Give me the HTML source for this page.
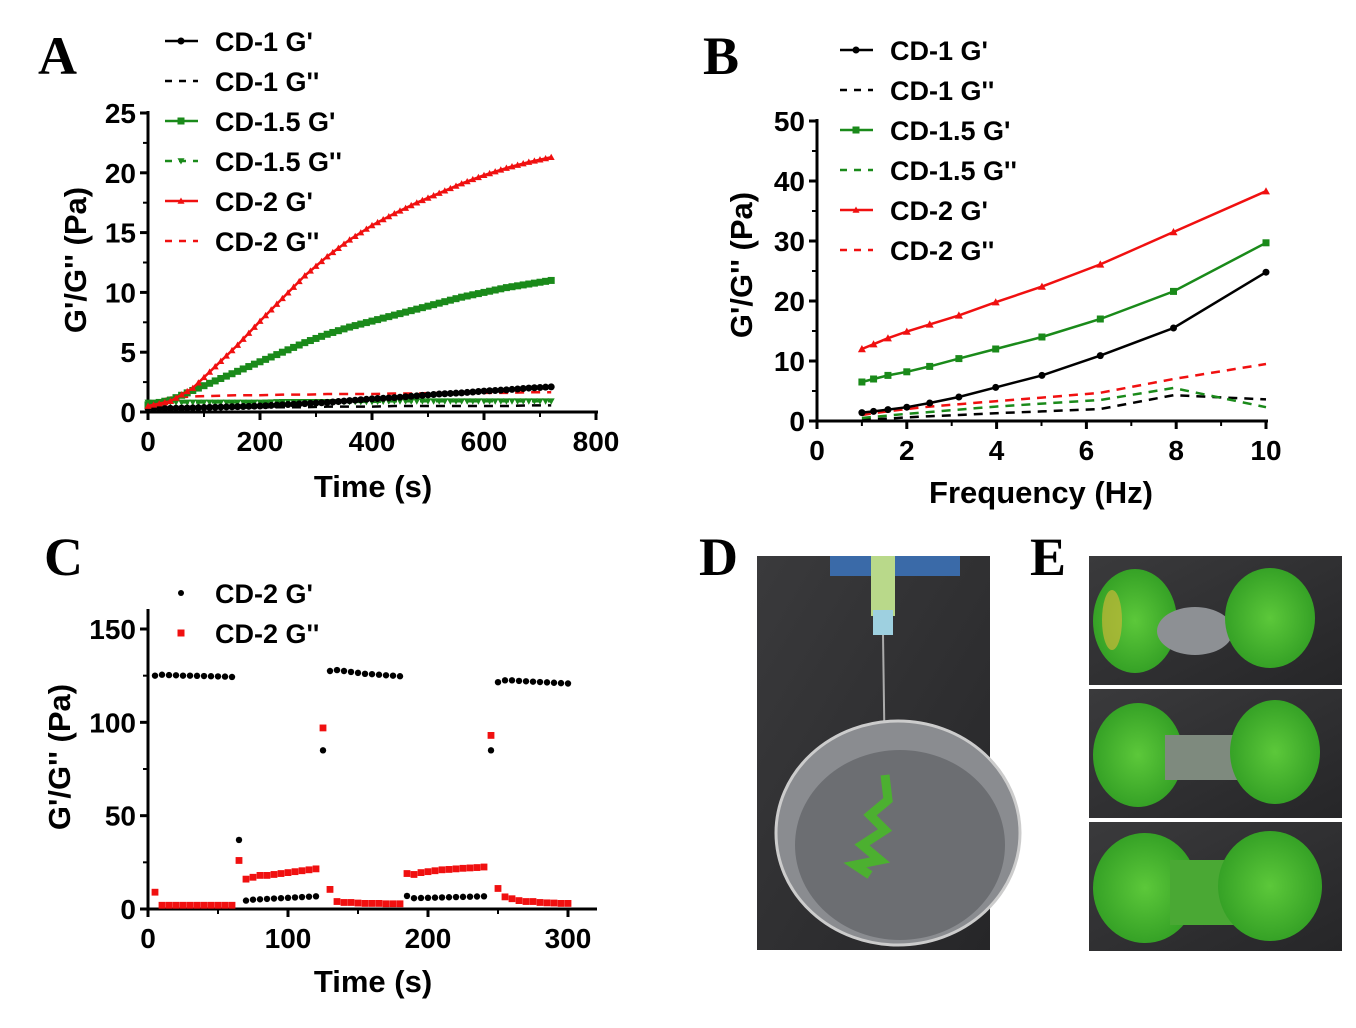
<!DOCTYPE html>
<html><head><meta charset="utf-8"><style>
html,body{margin:0;padding:0;background:#fff;}
svg text{font-family:"Liberation Sans",Arial,sans-serif;font-weight:bold;}
</style></head><body>
<svg id="fig" width="1356" height="1023" viewBox="0 0 1356 1023" xmlns="http://www.w3.org/2000/svg">
<defs>
<radialGradient id="gel" cx="50%" cy="50%" r="60%"><stop offset="0" stop-color="#5cc83a"/><stop offset="1" stop-color="#2e9a22"/></radialGradient>
<linearGradient id="bg" x1="0" y1="0" x2="1" y2="1"><stop offset="0" stop-color="#3a3a3c"/><stop offset="1" stop-color="#262628"/></linearGradient>
</defs>
<text x="38" y="74" style="font-family:'Liberation Serif',serif" font-size="54">A</text>
<text x="703" y="74" style="font-family:'Liberation Serif',serif" font-size="54">B</text>
<text x="44" y="575" style="font-family:'Liberation Serif',serif" font-size="54">C</text>
<text x="699" y="575" style="font-family:'Liberation Serif',serif" font-size="54">D</text>
<text x="1030" y="575" style="font-family:'Liberation Serif',serif" font-size="54">E</text>

<g>
<rect x="757" y="556" width="233" height="394" fill="url(#bg)"/>
<rect x="830" y="556" width="130" height="20" fill="#3a6aa8"/>
<rect x="871" y="556" width="24" height="60" fill="#b9d98a"/>
<rect x="873" y="610" width="20" height="25" fill="#9ed0e0"/>
<line x1="883" y1="635" x2="885" y2="775" stroke="#aaa" stroke-width="2"/>
<ellipse cx="898" cy="833" rx="122" ry="112" fill="#8a8c90" stroke="#ccc" stroke-width="3"/>
<ellipse cx="900" cy="845" rx="105" ry="95" fill="#6c6e72"/>
<path d="M885 775 L888 800 L870 815 L885 830 L862 845 L880 860 L855 865 L870 875" stroke="#4cb030" stroke-width="9" fill="none"/>
</g>

<g>
<rect x="1089" y="556" width="253" height="129" fill="url(#bg)"/>
<ellipse cx="1135" cy="621" rx="42" ry="52" fill="url(#gel)"/>
<ellipse cx="1195" cy="631" rx="38" ry="24" fill="#8d9094"/>
<ellipse cx="1270" cy="618" rx="45" ry="50" fill="url(#gel)"/>
<ellipse cx="1112" cy="620" rx="10" ry="30" fill="#c8b838" opacity="0.7"/>
</g>
<g>
<rect x="1089" y="689" width="253" height="129" fill="url(#bg)"/>
<ellipse cx="1138" cy="755" rx="45" ry="52" fill="url(#gel)"/>
<rect x="1165" y="735" width="80" height="45" fill="#7e8a7e"/>
<ellipse cx="1275" cy="752" rx="45" ry="52" fill="url(#gel)"/>
</g>
<g>
<rect x="1089" y="822" width="253" height="129" fill="url(#bg)"/>
<ellipse cx="1145" cy="888" rx="52" ry="55" fill="url(#gel)"/>
<rect x="1170" y="860" width="80" height="65" fill="#4aa834"/>
<ellipse cx="1270" cy="886" rx="52" ry="55" fill="url(#gel)"/>
</g>
<g id="charts"></g>
</svg>
<script>
// ---- Panel A data ----
const aTime=[0,40,80,120,160,200,240,280,320,360,400,440,480,520,560,600,640,680,720];
const aCD1Gp=[0.3,0.3,0.35,0.4,0.45,0.5,0.6,0.7,0.8,0.95,1.1,1.2,1.35,1.5,1.6,1.75,1.85,2.0,2.1];
const aCD1Gpp=[0.3,0.3,0.3,0.35,0.35,0.4,0.4,0.4,0.45,0.45,0.45,0.5,0.5,0.5,0.5,0.5,0.5,0.55,0.55];
const aCD15Gp=[0.6,1.0,1.8,2.6,3.4,4.2,5.0,5.8,6.5,7.1,7.6,8.1,8.6,9.1,9.6,10.0,10.4,10.7,11.0];
const aCD15Gpp=[0.8,0.8,0.8,0.8,0.8,0.8,0.85,0.85,0.85,0.85,0.85,0.9,0.9,0.9,0.9,0.9,0.9,0.9,0.9];
const aCD2Gp=[0.5,0.9,2.0,3.8,5.6,7.6,9.5,11.4,13.0,14.4,15.6,16.6,17.5,18.3,19.1,19.8,20.4,20.9,21.3];
const aCD2Gpp=[0.7,1.2,1.3,1.35,1.4,1.4,1.45,1.45,1.5,1.5,1.5,1.55,1.55,1.6,1.6,1.6,1.6,1.65,1.65];
const aXTicks=[0,200,400,600,800];
const aYTicks=[0,5,10,15,20,25];
// ---- Panel B data ----
const bFreq=[1,1.26,1.58,2,2.51,3.16,3.98,5.01,6.31,7.94,10];
const bCD1Gp=[1.4,1.6,1.9,2.3,3.0,4.0,5.6,7.6,10.9,15.5,24.8];
const bCD1Gpp=[0.2,0.3,0.4,0.6,0.8,1.0,1.3,1.6,2.0,4.3,3.6];
const bCD15Gp=[6.5,7.0,7.6,8.2,9.1,10.4,12.0,14.0,17.0,21.6,29.7];
const bCD15Gpp=[0.5,0.7,0.9,1.2,1.5,1.9,2.4,2.9,3.5,5.5,2.3];
const bCD2Gp=[12.0,12.8,13.8,14.9,16.1,17.6,19.8,22.4,26.1,31.5,38.3];
const bCD2Gpp=[1.0,1.3,1.6,2.0,2.4,2.8,3.3,3.9,4.7,7.0,9.5];
const bXTicks=[0,2,4,6,8,10];
const bYTicks=[0,10,20,30,40,50];
// ---- Panel C data ----
const cTime=[5,10,15,20,25,30,35,40,45,50,55,60,65,70,75,80,85,90,95,100,105,110,115,120,125,130,135,140,145,150,155,160,165,170,175,180,185,190,195,200,205,210,215,220,225,230,235,240,245,250,255,260,265,270,275,280,285,290,295,300];
const cGp=[125,125.5,125.3,125.2,125,125,124.9,124.8,124.7,124.6,124.5,124.3,37,4.5,5,5.2,5.4,5.6,5.8,6,6.2,6.4,6.6,6.8,85,127.5,128,127.5,127,126.5,126,125.8,125.5,125.2,125,124.7,7,5.8,5.9,6,6.1,6.2,6.3,6.4,6.5,6.6,6.7,6.8,85,121.5,122.5,122.5,122.2,122,121.8,121.6,121.4,121.2,121,120.8];
const cGpp=[9,2,2,2,2,2,2,2,2,2,2,2,26,16,17,18,18,18.5,19,19.5,20,20.5,21,21.5,97,10.5,4,3.5,3.5,3.2,3,3,3,2.8,2.8,2.8,19,18.5,19.5,20,20.5,21,21.2,21.5,21.8,22,22.2,22.5,93,11,6.5,5.5,4.5,4,4,3.5,3.3,3.2,3,3];
const cXTicks=[0,100,200,300];
const cYTicks=[0,50,100,150];

const NS="http://www.w3.org/2000/svg";
const root=document.getElementById('charts');
function mk(tag,attrs,parent){const e=document.createElementNS(NS,tag);for(const k in attrs)e.setAttribute(k,attrs[k]);(parent||root).appendChild(e);return e;}

function axes(g,o){
  const sx=v=>o.x0+(v-o.xmin)/(o.xmax-o.xmin)*(o.x1-o.x0);
  const sy=v=>o.y0-(v-o.ymin)/(o.ymax-o.ymin)*(o.y0-o.y1);
  const ax=mk('line',{x1:o.x0,y1:o.y0,x2:o.xend,y2:o.y0,stroke:'#000','stroke-width':3},g);
  
  
  const ay=mk('line',{x1:o.x0,y1:o.y0,x2:o.x0,y2:o.yend,stroke:'#000','stroke-width':3},g);
  
  
  o.xt.forEach((v,i)=>{
    const X=sx(v);
    mk('line',{x1:X,y1:o.y0,x2:X,y2:o.y0+8,stroke:'#000','stroke-width':3},g);
    if(i<o.xt.length-1){const m=sx((v+o.xt[i+1])/2);mk('line',{x1:m,y1:o.y0,x2:m,y2:o.y0+5,stroke:'#000','stroke-width':2},g);}
    const t=mk('text',{x:X,y:o.y0+39,'text-anchor':'middle','font-size':28},g);t.textContent=v;
    
    
  });
  o.yt.forEach((v,i)=>{
    const Y=sy(v);
    mk('line',{x1:o.x0-8,y1:Y,x2:o.x0,y2:Y,stroke:'#000','stroke-width':3},g);
    if(i<o.yt.length-1){const m=sy((v+o.yt[i+1])/2);mk('line',{x1:o.x0-5,y1:m,x2:o.x0,y2:m,stroke:'#000','stroke-width':2},g);}
    const t=mk('text',{x:o.x0-12,y:Y+10,'text-anchor':'end','font-size':28},g);t.textContent=v;
    
    
  });
  const xt=mk('text',{x:o.xtx,y:o.xty,'text-anchor':'middle','font-size':31},g);xt.textContent=o.xtitle;
  
  
  const yt=mk('text',{x:0,y:0,'text-anchor':'middle','font-size':31,transform:`translate(${o.ytx},${o.yty}) rotate(-90)`},g);yt.textContent="G'/G'' (Pa)";
  
  
  return {sx,sy};
}
function marker(g,type,x,y,c,s){
  if(type==='circle')return mk('circle',{cx:x,cy:y,r:s,fill:c},g);
  if(type==='square')return mk('rect',{x:x-s,y:y-s,width:2*s,height:2*s,fill:c},g);
  if(type==='tri')return mk('polygon',{points:`${x},${y-s} ${x-s},${y+s*0.8} ${x+s},${y+s*0.8}`,fill:c},g);
  if(type==='dtri')return mk('polygon',{points:`${x},${y+s} ${x-s},${y-s*0.8} ${x+s},${y-s*0.8}`,fill:c},g);
}
function series(g,xs,ys,sc,st,name){
  const sg=mk('g',{},g);
  
  
  const pts=xs.map((x,i)=>sc.sx(x)+','+sc.sy(ys[i])).join(' ');
  mk('polyline',{points:pts,fill:'none',stroke:st.c,'stroke-width':st.w||2.5,'stroke-dasharray':st.dash||'none'},sg);
  if(st.m){
    for(let i=0;i<xs.length;i++){
      marker(sg,st.m,sc.sx(xs[i]),sc.sy(ys[i]),st.c,st.ms||3.5);
      if(st.sub && i<xs.length-1){
        for(let k=1;k<st.sub;k++){const f=k/st.sub;
          marker(sg,st.m,sc.sx(xs[i]+(xs[i+1]-xs[i])*f),sc.sy(ys[i]+(ys[i+1]-ys[i])*f),st.c,st.ms||3.5);}
      }
    }
  }
}
function legend(g,x,y,label,st,name){
  const lg=mk('g',{},g);
  
  
  if(st.line!==false)mk('line',{x1:x,y1:y,x2:x+33,y2:y,stroke:st.c,'stroke-width':2.5,'stroke-dasharray':st.dash||'none'},lg);
  if(st.m)marker(lg,st.m,x+16,y,st.c,st.ms||3.5);
  const t=mk('text',{x:x+50,y:y+10,'font-size':27},lg);t.textContent=label;
}

// Panel A
const gA=mk('g',{});


const scA=axes(gA,{x0:148,x1:596,xmin:0,xmax:800,xend:598,y0:412,y1:113,ymin:0,ymax:25,yend:111,xt:aXTicks,yt:aYTicks,xtitle:'Time (s)',xtx:373,xty:497,ytx:86,yty:260});
const stA=[
 [aCD1Gpp,{c:'#000',dash:'9,7'},'series-cd1-gpp'],
 [aCD15Gpp,{c:'#1a8a1a',dash:'9,7',m:'dtri',sub:4,ms:3.5},'series-cd15-gpp'],
 [aCD2Gpp,{c:'#f01010',dash:'9,7'},'series-cd2-gpp'],
 [aCD1Gp,{c:'#000',m:'circle',sub:4,ms:3.5},'series-cd1-gp'],
 [aCD15Gp,{c:'#1a8a1a',m:'square',sub:4,ms:3.5,w:3},'series-cd15-gp'],
 [aCD2Gp,{c:'#f01010',m:'tri',sub:4,ms:3.5},'series-cd2-gp']
];
stA.forEach(s=>series(gA,aTime,s[0],scA,s[1],s[2]));
const legA=[["CD-1 G'",{c:'#000',m:'circle'}],["CD-1 G''",{c:'#000',dash:'7,7'}],["CD-1.5 G'",{c:'#1a8a1a',m:'square'}],["CD-1.5 G''",{c:'#1a8a1a',dash:'7,7',m:'dtri'}],["CD-2 G'",{c:'#f01010',m:'tri'}],["CD-2 G''",{c:'#f01010',dash:'7,7'}]];
legA.forEach((l,i)=>legend(gA,165,41+i*40,l[0],l[1],'legend-entry-a'));

// Panel B
const gB=mk('g',{});


const scB=axes(gB,{x0:817,x1:1266,xmin:0,xmax:10,xend:1268,y0:421,y1:121,ymin:0,ymax:50,yend:119,xt:bXTicks,yt:bYTicks,xtitle:'Frequency (Hz)',xtx:1041,xty:503,ytx:752,yty:265});
[[bCD1Gpp,{c:'#000',dash:'9,7'},'series-b-cd1-gpp'],[bCD15Gpp,{c:'#1a8a1a',dash:'9,7'},'series-b-cd15-gpp'],[bCD2Gpp,{c:'#f01010',dash:'9,7'},'series-b-cd2-gpp'],
 [bCD1Gp,{c:'#000',m:'circle',ms:3.5},'series-b-cd1-gp'],[bCD15Gp,{c:'#1a8a1a',m:'square',ms:3.5},'series-b-cd15-gp'],[bCD2Gp,{c:'#f01010',m:'tri',ms:4},'series-b-cd2-gp']]
 .forEach(s=>series(gB,bFreq,s[0],scB,s[1],s[2]));
const legB=[["CD-1 G'",{c:'#000',m:'circle'}],["CD-1 G''",{c:'#000',dash:'7,7'}],["CD-1.5 G'",{c:'#1a8a1a',m:'square'}],["CD-1.5 G''",{c:'#1a8a1a',dash:'7,7'}],["CD-2 G'",{c:'#f01010',m:'tri'}],["CD-2 G''",{c:'#f01010',dash:'7,7'}]];
legB.forEach((l,i)=>legend(gB,840,50+i*40,l[0],l[1],'legend-entry-b'));

// Panel C
const gC=mk('g',{});


const scC=axes(gC,{x0:148,x1:568,xmin:0,xmax:300,xend:597,y0:909,y1:629,ymin:0,ymax:150,yend:609,xt:cXTicks,yt:cYTicks,xtitle:'Time (s)',xtx:373,xty:992,ytx:70,yty:757});
cTime.forEach((t,i)=>{
  const p=marker(gC,'circle',scC.sx(t),scC.sy(cGp[i]),'#000',3.2);
  
  
  const q=marker(gC,'square',scC.sx(t),scC.sy(cGpp[i]),'#f01010',3.4);
  
  
});
legend(gC,165,593,"CD-2 G'",{c:'#000',m:'circle',line:false,ms:3},'legend-entry-c');
legend(gC,165,633,"CD-2 G''",{c:'#f01010',m:'square',line:false,ms:3.5},'legend-entry-c');
</script>
</body></html>
